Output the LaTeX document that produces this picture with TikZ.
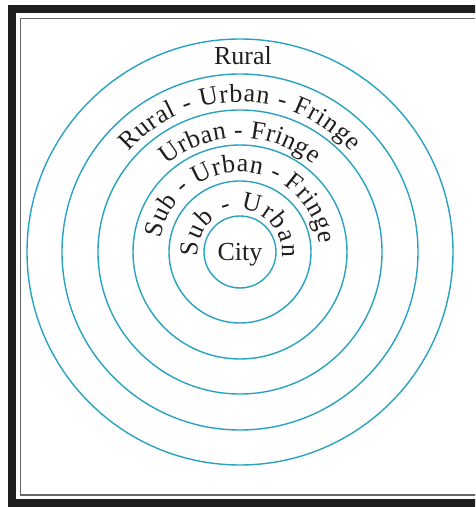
\documentclass[tikz,border=0pt]{standalone}
\usepackage{fontspec}
\setmainfont{Liberation Serif}
\usetikzlibrary{decorations.text}
\definecolor{ringblue}{RGB}{40,162,192}
\definecolor{inkgrey}{RGB}{35,30,30}
\newcommand\ringfont{\fontsize{26}{31}\selectfont}

\begin{document}
\begin{tikzpicture}[x=1pt,y=1pt,
  ring/.style={draw=ringblue, line width=1.4pt},
  ringlabel/.style={decorate, decoration={text along path, text align=fit to path, text color=inkgrey}}]
\useasboundingbox (0,0) rectangle (475,507);

%Shape: Frame
\begin{scope}
\clip (0,0) rectangle (475,507);
\draw [line width=8pt, black!88] (12,4) rectangle (500,498);
\draw [line width=1.6pt, black!60] (20.5,12) rectangle (500,488.5);
\end{scope}

%Shape: Circle
\draw [ring] (240,255) circle (213);
%Shape: Circle
\draw [ring] (240,255) circle (178);
%Shape: Circle
\draw [ring] (240,255) circle (142);
%Shape: Circle
\draw [ring] (240,255) circle (107);
%Shape: Circle
\draw [ring] (240,255) circle (71);
%Shape: Circle
\draw [ring] (240,255) circle (36);

% Text Node
\draw (243,442) node [anchor=base, font=\ringfont, text=inkgrey] (rural) {Rural};
% Curved Text
\path [ringlabel, decoration={text={|\ringfont|Rural - Urban - Fringe}}] (240,255) ++(138:150) arc [start angle=138, end angle=42, radius=150];
% Curved Text
\path [ringlabel, decoration={text={|\ringfont|Urban - Fringe}}] (240,255) ++(130:114) arc [start angle=130, end angle=50, radius=114];
% Curved Text
\path [ringlabel, decoration={text={|\ringfont|Sub - Urban - Fringe}}] (240,255) ++(170:80) arc [start angle=170, end angle=6, radius=80];
% Curved Text
\path [ringlabel, decoration={text={|\ringfont|Sub - Urban}}] (240,255) ++(186:42) arc [start angle=186, end angle=-8, radius=42];
% Text Node
\draw (240,246) node [anchor=base, font=\ringfont, text=inkgrey] (city) {City};

\end{tikzpicture}
\end{document}
